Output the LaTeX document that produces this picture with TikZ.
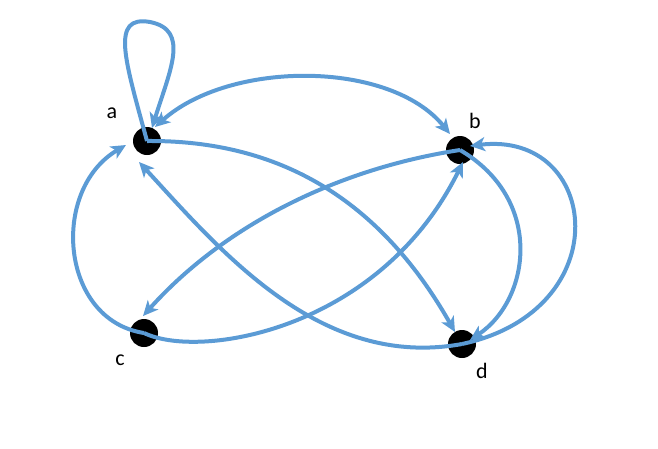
\documentclass[tikz,border=0pt]{standalone}
\usepackage{fontspec}
\setmainfont{Carlito}
\usetikzlibrary{arrows.meta}
\definecolor{eb}{RGB}{91,155,213}
\begin{document}
\begin{tikzpicture}[x=1pt,y=-1pt,
  vert/.style={circle,fill=black,inner sep=0pt,minimum size=28pt},
  lab/.style={font=\fontsize{22}{22}\selectfont},
  edge/.style={draw=eb,line width=4pt,-{Stealth[length=15pt,width=14pt,inset=4pt]}},
  bedge/.style={edge,{Stealth[length=15pt,width=14pt,inset=4pt]}-{Stealth[length=15pt,width=14pt,inset=4pt]}}]
\useasboundingbox (0,0) rectangle (658,448);
\node[vert] (a) at (147,141) {};
\node[vert] (b) at (460,150) {};
\node[vert] (c) at (144,333) {};
\node[vert] (d) at (462,344) {};
\node[lab] (la) at (112,113) {a};
\node[lab] (lb) at (475,121) {b};
\node[lab] (lc) at (120,360) {c};
\node[lab] (ld) at (482,371) {d};
\draw[edge] (a.center) .. controls (125,60) and (110,15) .. (150,22) .. controls (190,30) and (170,70) .. (152,128);
\draw[bedge] (155,127) .. controls (230,60) and (390,60) .. (450,134);
\draw[edge] (a.center) .. controls (280,140) and (380,200) .. (455,332);
\draw[edge] (d.center) .. controls (320,370) and (220,250) .. (139,162);
\draw[edge] (c.center) .. controls (60,320) and (50,190) .. (126,145);
\draw[edge] (c.center) .. controls (200,360) and (380,330) .. (463,162);
\draw[edge] (b.center) .. controls (330,170) and (220,230) .. (143,316);
\draw[edge] (b.center) .. controls (545,200) and (530,300) .. (470,340);
\draw[edge] (d.center) .. controls (620,310) and (600,130) .. (470,146);
\end{tikzpicture}
\end{document}
